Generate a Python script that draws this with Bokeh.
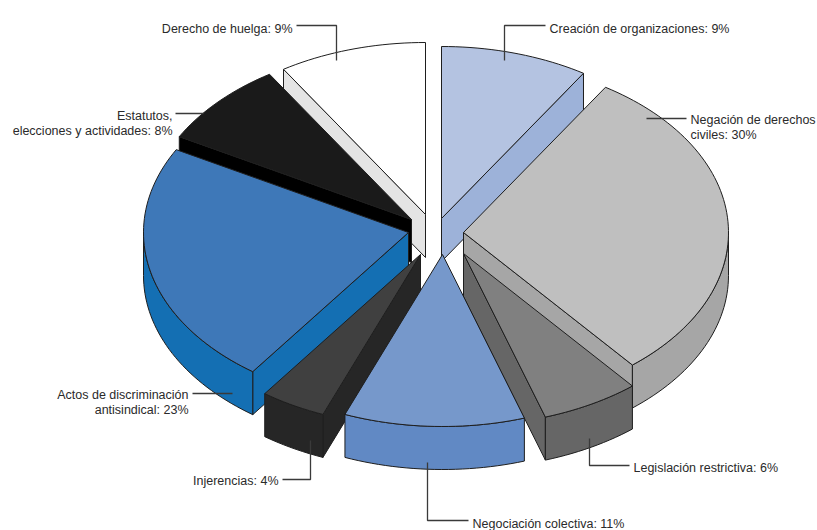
import math
from bokeh.plotting import figure
from bokeh.models import Range1d, ColumnDataSource
from bokeh.embed import file_html
from bokeh.resources import INLINE
from bokeh.core.properties import value

# ---------------- data ----------------
categories = [
    "Creación de organizaciones",
    "Negación de derechos\nciviles",
    "Legislación restrictiva",
    "Negociación colectiva",
    "Injerencias",
    "Actos de discriminación\nantisindical",
    "Estatutos,\nelecciones y actividades",
    "Derecho de huelga",
]
shares = [9, 30, 6, 11, 4, 23, 8, 9]

# ---------------- style / layout ----------------
top_colors = ["#b4c3e1", "#bfbfbf", "#808080", "#7698cb", "#404040", "#3e78b8", "#1a1a1a", "#ffffff"]
side_colors = ["#9db2d9", "#a6a6a6", "#666666", "#6189c4", "#262626", "#146fb3", "#000000", "#e4e4e4"]
explode = [(5, -16), (27, -2), (27, 19), (6, 20), (-16, 20), (-28, -2), (-25, -15), (-11, -20)]
CX, CY = 436, 234
RX, RY = 265, 172
DEPTH = 43

label_pos = [
    ("left", 549, 28, [(545, 25), (504, 25), (504, 60)]),
    ("left", 690, 119, [(686, 118), (646, 118)]),
    ("left", 633, 467, [(629, 465), (589, 465), (589, 438)]),
    ("left", 472, 523, [(468, 520), (427, 520), (427, 462)]),
    ("right", 278, 480, [(282, 479), (310, 479), (310, 440)]),
    ("right", 188, 394, [(192, 393), (232, 393)]),
    ("right", 172, 115, [(175, 113), (203, 113)]),
    ("right", 292, 28, [(296, 25), (336, 25), (336, 60)]),
]
LINE_H = 15

p = figure(width=817, height=530, x_range=Range1d(0, 817), y_range=Range1d(530, 0),
           x_axis_type=None, y_axis_type=None, toolbar_location=None,
           output_backend="svg", min_border=0, outline_line_color=None,
           background_fill_color="white", border_fill_color="white")
p.grid.visible = False

total = float(sum(shares))
angles = []
acc = 0.0
for s in shares:
    a = acc / total * 360.0
    acc += s
    b = acc / total * 360.0
    angles.append((a, b))


def arc(px, py, a, b, dy=0.0):
    n = max(int(abs(b - a) / 1.5), 2)
    xs, ys = [], []
    for k in range(n + 1):
        phi = math.radians(a + (b - a) * k / n)
        xs.append(px + RX * math.sin(phi))
        ys.append(py - RY * math.cos(phi) + dy)
    return xs, ys


def mid_cos(i):
    a, b = angles[i]
    return math.cos(math.radians((a + b) / 2))


order = sorted(range(len(shares)), key=lambda i: -mid_cos(i))

pxs, pys, fills = [], [], []
for i in order:
    a, b = angles[i]
    px, py = CX + explode[i][0], CY + explode[i][1]
    # start radial face
    if math.sin(math.radians(a)) < -1e-9:
        ex, ey = px + RX * math.sin(math.radians(a)), py - RY * math.cos(math.radians(a))
        pxs.append([px, ex, ex, px]); pys.append([py, ey, ey + DEPTH, py + DEPTH]); fills.append(side_colors[i])
    # end radial face
    if math.sin(math.radians(b)) > 1e-9:
        ex, ey = px + RX * math.sin(math.radians(b)), py - RY * math.cos(math.radians(b))
        pxs.append([px, ex, ex, px]); pys.append([py, ey, ey + DEPTH, py + DEPTH]); fills.append(side_colors[i])
    # outer wall (front half)
    wa, wb = max(a, 90.0), min(b, 270.0)
    if wb > wa:
        tx, ty = arc(px, py, wa, wb)
        bx, by = arc(px, py, wa, wb, DEPTH)
        pxs.append(tx + bx[::-1]); pys.append(ty + by[::-1]); fills.append(side_colors[i])
    # top face
    tx, ty = arc(px, py, a, b)
    pxs.append([px] + tx); pys.append([py] + ty); fills.append(top_colors[i])

src = ColumnDataSource(dict(xs=pxs, ys=pys, fill=fills))
p.patches("xs", "ys", source=src, fill_color="fill", line_color="#1e1e1e", line_width=1,
          line_join="miter")

# leaders and labels
lx, ly = [], []
for i in range(len(shares)):
    pts = label_pos[i][3]
    lx.append([q[0] for q in pts]); ly.append([q[1] for q in pts])
p.multi_line(lx, ly, line_color="#3a3a3a", line_width=1.3)

for align in ("left", "right"):
    tx, ty, tt = [], [], []
    for i in range(len(shares)):
        al, x0, y0, _ = label_pos[i]
        if al != align:
            continue
        lines = f"{categories[i]}: {shares[i]}%".split("\n")
        for k, t in enumerate(lines):
            tx.append(x0); ty.append(y0 + k * LINE_H); tt.append(t)
    p.text(tx, ty, text=tt, text_align=align, text_baseline="alphabetic",
           text_font=value("Liberation Sans"), text_font_size="12.5px", text_color="#2a2a2a")

open("out.html", "w").write(file_html(p, INLINE))
